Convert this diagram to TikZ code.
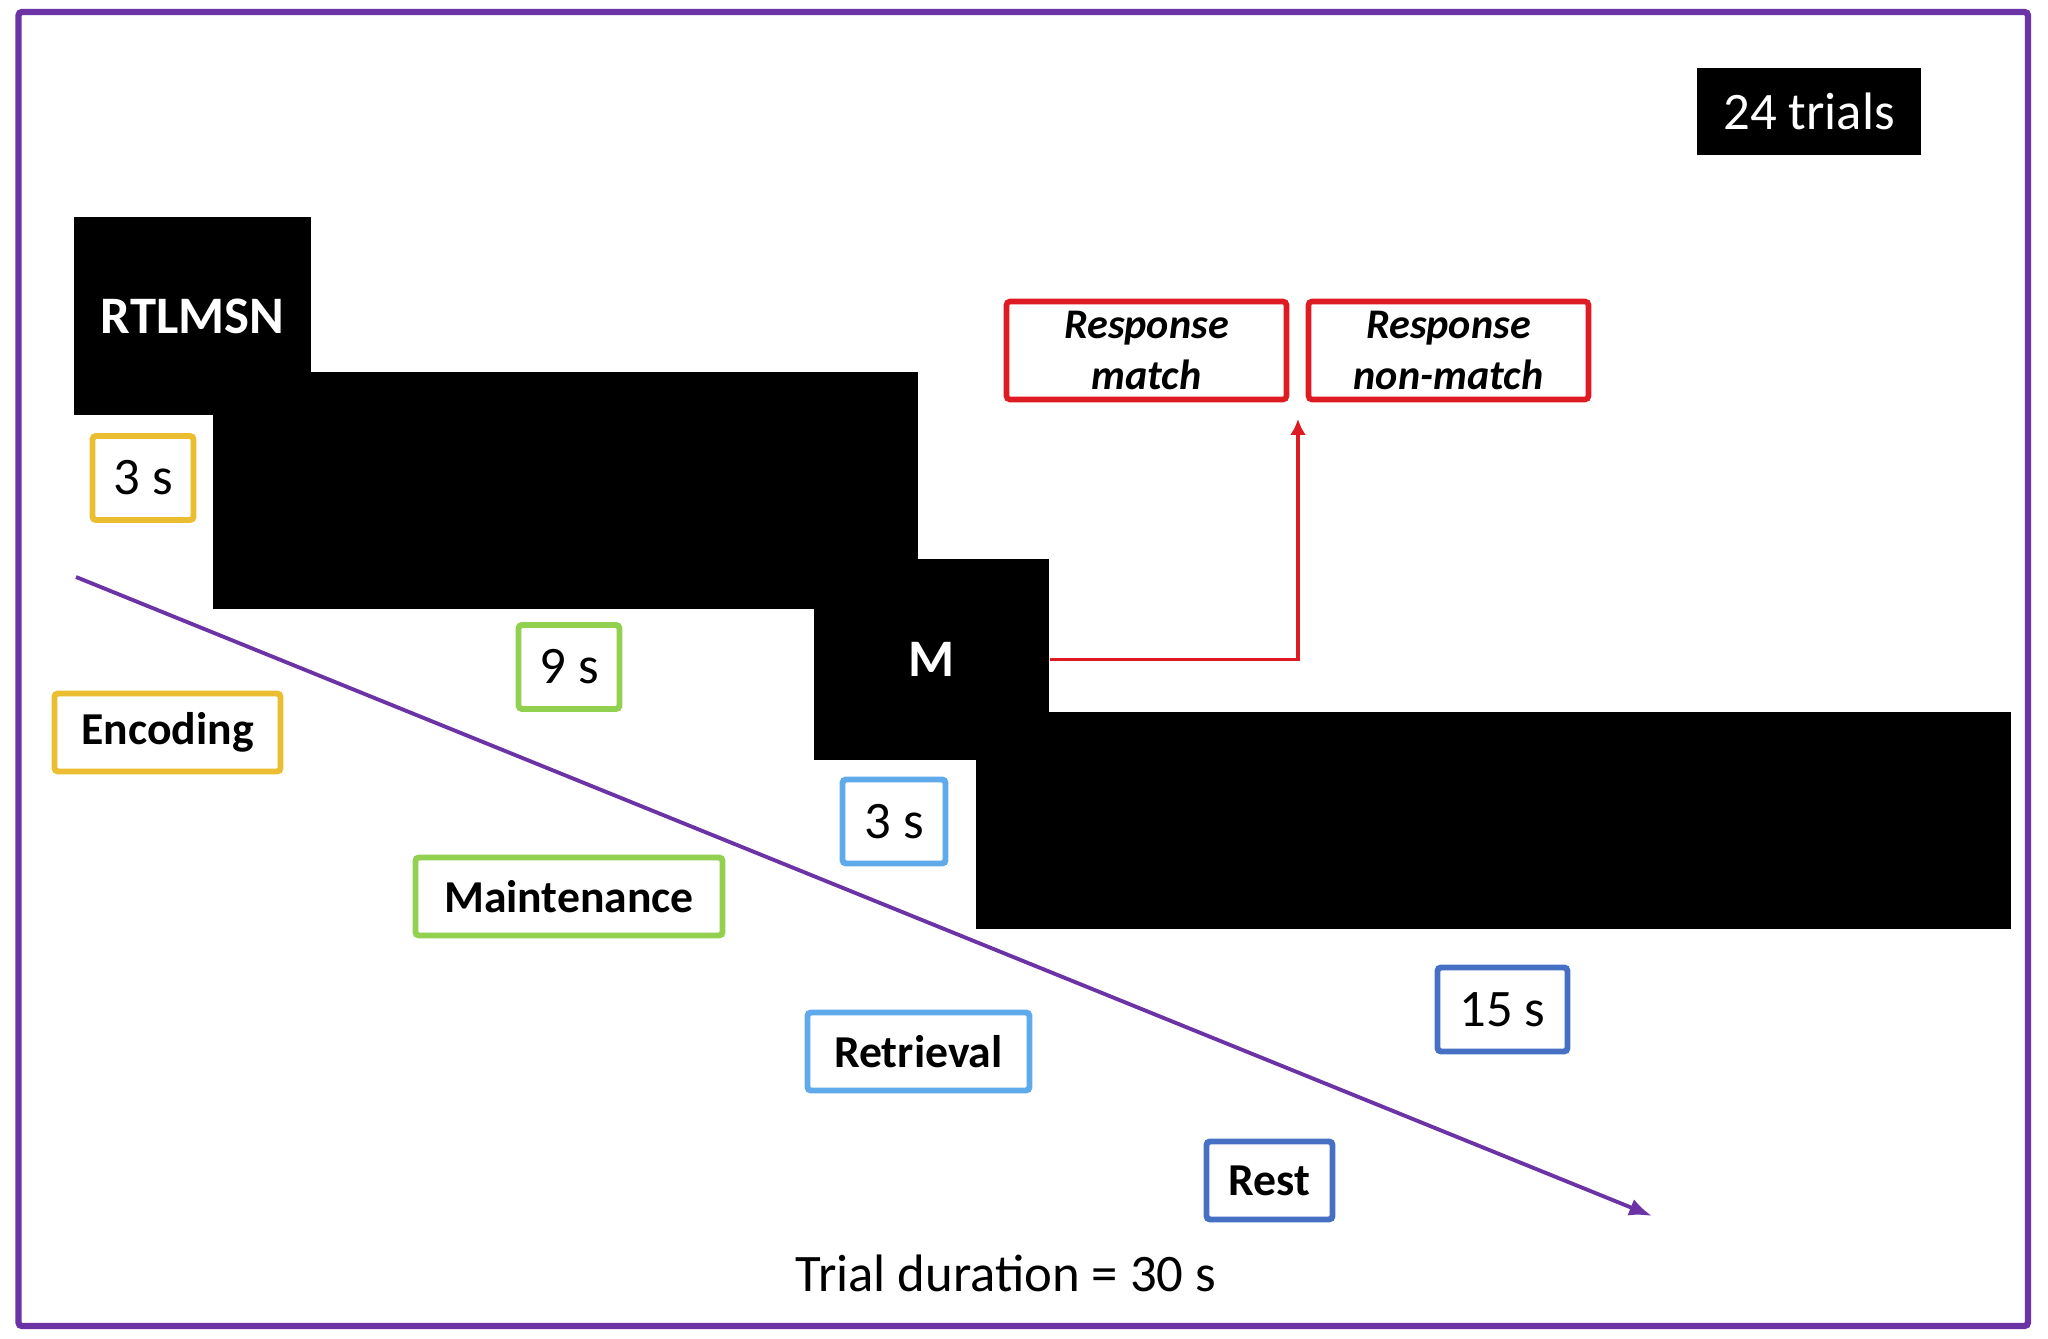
\documentclass[tikz,border=0pt]{standalone}
\usepackage{fontspec}
\setmainfont{Carlito}
\usetikzlibrary{arrows.meta}
\definecolor{viola}{HTML}{6B33A6}
\definecolor{giallo}{HTML}{EBBD30}
\definecolor{verde}{HTML}{92D050}
\definecolor{celeste}{HTML}{5FAAEB}
\definecolor{blu}{HTML}{4670C4}
\definecolor{rosso}{HTML}{DE1A22}

\begin{document}
\begin{tikzpicture}[
   blk/.style={fill=black,text=white,inner sep=0pt,font=\bfseries\fontsize{15}{18}\selectfont},
   dur/.style={draw=#1,line width=1.7pt,fill=white,inner sep=0pt,rounded corners=1pt,minimum height=0.84cm,font=\fontsize{15}{18}\selectfont},
   phase/.style={draw=#1,line width=1.7pt,fill=white,inner sep=0pt,rounded corners=1pt,minimum height=0.78cm,font=\bfseries\fontsize{13}{16}\selectfont},
   resp/.style={draw=rosso,line width=1.6pt,rounded corners=1pt,minimum width=2.80cm,minimum height=0.98cm,inner sep=0pt,align=center,font=\bfseries\itshape\fontsize{12}{14.5}\selectfont}]
   \useasboundingbox (0,0) rectangle (20.48,13.39);
% cornice
   \draw[viola,line width=1.8pt,rounded corners=1pt] (0.185,0.13) rectangle (20.28,13.27);
   \node[fill=black,text=white,minimum width=2.24cm,minimum height=0.87cm,inner sep=0pt,
   font=\fontsize{15}{18}\selectfont] (trials) at (18.09,12.275) {24 trials};
% blocchi neri
   \node[blk,minimum width=2.37cm,minimum height=1.98cm] (enc) at (1.925,10.23) {RTLMSN};
   \node[blk,minimum width=7.05cm,minimum height=2.37cm] (mnt) at (5.655,8.485) {};
   \node[blk,minimum width=2.35cm,minimum height=2.01cm] (ret) at (9.315,6.795) {M};
   \node[blk,minimum width=10.35cm,minimum height=2.17cm] (rst) at (14.935,5.185) {};
% risposte
   \node[resp] (match) at (11.465,9.885) {Response\\match};
   \node[resp] (nonmatch) at (14.485,9.885) {Response\\non-match};
   \coordinate (gap) at (12.98,9.20);
   \draw[rosso,line width=1pt,-{Latex[length=4.5pt,width=4.5pt]}] (ret.east) -| (gap);
% asse temporale
   \coordinate (t0) at (0.76,7.62); \coordinate (t1) at (16.52,1.23);
   \draw[viola,line width=1.1pt,-{Latex[length=6.5pt,width=5pt]}] (t0) -- (t1);
% durate
   \node[dur=giallo,minimum width=1.01cm] (d1) at (1.43,8.61) {3 s};
   \node[dur=verde,minimum width=1.01cm] (d2) at (5.69,6.72) {9 s};
   \node[dur=celeste,minimum width=1.03cm] (d3) at (8.94,5.175) {3 s};
   \node[dur=blu,minimum width=1.30cm] (d4) at (15.025,3.295) {15 s};
% fasi
   \node[phase=giallo,minimum width=2.26cm] (p1) at (1.675,6.065) {Encoding};
   \node[phase=verde,minimum width=3.07cm] (p2) at (5.69,4.425) {Maintenance};
   \node[phase=celeste,minimum width=2.22cm] (p3) at (9.185,2.875) {Retrieval};
   \node[phase=blu,minimum width=1.26cm] (p4) at (12.695,1.585) {Rest};
   \node[font=\fontsize{15}{18}\selectfont] (dur) at (10.06,0.66) {Trial duration = 30 s};
\end{tikzpicture}
\end{document}
